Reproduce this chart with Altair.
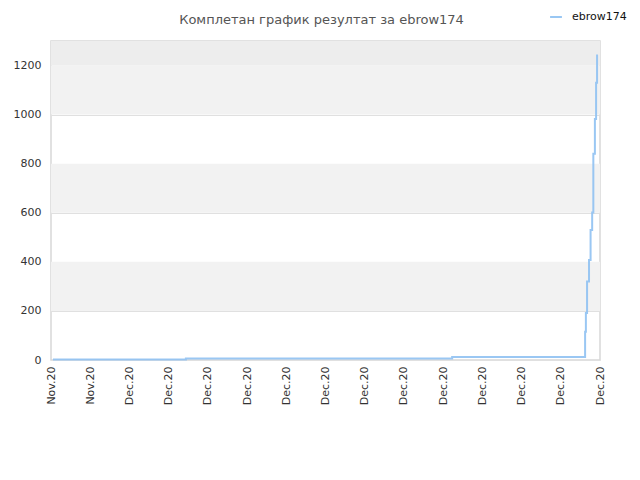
import altair as alt
import pandas as pd

# data
t_vals = [0.05, 3.44, 10.23, 13.62, 13.64, 13.67, 13.72, 13.76, 13.80, 13.83, 13.87, 13.90, 13.925]
v_vals = [2, 6, 12, 115, 192, 320, 408, 530, 601, 841, 982, 1130, 1245]
series_name = "ebrow174"
tick_labels = ["Nov.20", "Nov.20"] + ["Dec.20"] * 13
band_lo = [200, 600, 1000, 1200]
band_hi = [400, 800, 1200, 1300]
band_col = ["#f2f2f2", "#f2f2f2", "#f2f2f2", "#ededed"]

df = pd.DataFrame({"t": t_vals, "v": v_vals, "s": [series_name] * len(t_vals)})
bands = pd.DataFrame({"lo": band_lo, "hi": band_hi, "c": band_col})

label_expr = "[" + ",".join(f"'{l}'" for l in tick_labels) + "][datum.value]"

xscale = alt.Scale(domain=[0, 14], nice=False, zero=False)
yscale = alt.Scale(domain=[0, 1300], nice=False)

band_layer = alt.Chart(bands).mark_rect().encode(
    x=alt.value(0), x2=alt.value(549),
    y=alt.Y("lo:Q", scale=yscale), y2="hi:Q",
    fill=alt.Fill("c:N", scale=None, legend=None),
)

line = alt.Chart(df).mark_line(interpolate="step-after", strokeWidth=2, opacity=0.9).encode(
    x=alt.X("t:Q", scale=xscale, title=None,
            axis=alt.Axis(values=list(range(15)), labelExpr=label_expr, labelAngle=270,
                          labelAlign="right", labelBaseline="middle", labelPadding=6,
                          ticks=False, domain=False, grid=False, labelColor="#333",
                          labelFont="DejaVu Sans", labelFontSize=11)),
    y=alt.Y("v:Q", scale=yscale, title=None,
            axis=alt.Axis(values=[0, 200, 400, 600, 800, 1000, 1200], format="d", ticks=False, domain=False,
                          grid=True, gridColor="#e0e0e0", labelColor="#333", labelPadding=10,
                          labelFont="DejaVu Sans", labelFontSize=11)),
    color=alt.Color("s:N", scale=alt.Scale(range=["#8fc1f2"]),
                    legend=alt.Legend(title=None, orient="none", legendX=498, legendY=-31,
                                      symbolType="stroke", symbolStrokeWidth=2, symbolSize=140,
                                      labelOffset=9, labelFont="DejaVu Sans", labelFontSize=11,
                                      labelColor="#111")),
)

chart = alt.layer(band_layer, line).properties(
    width=549, height=319,
    autosize=alt.AutoSizeParams(type="none"),
    padding={"left": 43, "top": 33, "right": 32, "bottom": 112},
    title=alt.TitleParams("Комплетан график резултат за ebrow174", font="DejaVu Sans",
                          fontSize=13, fontWeight="normal", color="#555", offset=-17, dx=-4),
).configure_view(stroke="#d8d8d8", strokeWidth=1.5)

chart.save("out.html", embed_options={"renderer": "svg", "actions": False})
